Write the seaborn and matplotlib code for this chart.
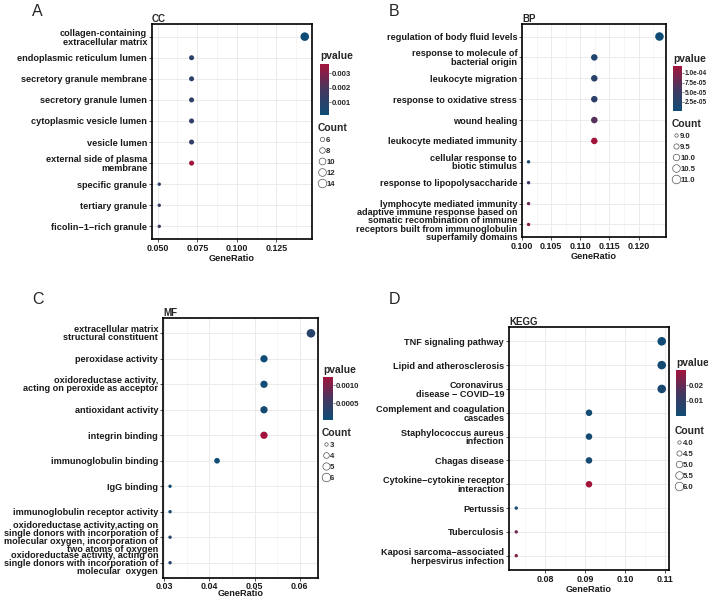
import matplotlib
matplotlib.use("Agg")
import matplotlib.pyplot as plt
import matplotlib.colors as mcolors
from matplotlib.lines import Line2D
from matplotlib.ticker import MultipleLocator, FormatStrFormatter
import numpy as np
import pandas as pd
import seaborn as sns

sns.set_theme(style="white")
plt.rcParams['font.family'] = ['Liberation Sans', 'DejaVu Sans']

# ===== data =====
cc_terms = ["collagen-containing\nextracellular matrix", "endoplasmic reticulum lumen",
            "secretory granule membrane", "secretory granule lumen", "cytoplasmic vesicle lumen",
            "vesicle lumen", "external side of plasma\nmembrane", "specific granule",
            "tertiary granule", "ficolin\u22121\u2212rich granule"]
cc_ratio = [0.1429, 0.0714, 0.0714, 0.0714, 0.0714, 0.0714, 0.0714, 0.0510, 0.0510, 0.0510]
cc_count = [14, 7, 7, 7, 7, 7, 7, 5, 5, 5]
cc_p = [0.00012, 0.0011, 0.0011, 0.0012, 0.0012, 0.0013, 0.00365, 0.0012, 0.0013, 0.0017]

bp_terms = ["regulation of body fluid levels", "response to molecule of\nbacterial origin",
            "leukocyte migration", "response to oxidative stress", "wound healing",
            "leukocyte mediated immunity", "cellular response to\nbiotic stimulus",
            "response to lipopolysaccharide", "lymphocyte mediated immunity",
            "adaptive immune response based on\nsomatic recombination of immune\n"
            "receptors built from immunoglobulin\nsuperfamily domains"]
bp_ratio = [0.1236, 0.1124, 0.1124, 0.1124, 0.1124, 0.1124, 0.1011, 0.1011, 0.1011, 0.1011]
bp_count = [11, 10, 10, 10, 10, 10, 9, 9, 9, 9]
bp_p = [0.000001, 0.000020, 0.000030, 0.000035, 0.000070, 0.000118,
        0.000010, 0.000050, 0.000080, 0.000100]

mf_terms = ["extracellular matrix\nstructural constituent", "peroxidase activity",
            "oxidoreductase activity,\nacting on peroxide as acceptor", "antioxidant activity",
            "integrin binding", "immunoglobulin binding", "IgG binding",
            "immunoglobulin receptor activity",
            "oxidoreductase activity,acting on\nsingle donors with incorporation of\n"
            "molecular oxygen, incorporation of\ntwo atoms of oxygen",
            "oxidoreductase activity, acting on\nsingle donors with incorporation of\n"
            "molecular  oxygen"]
mf_ratio = [0.0625, 0.0521, 0.0521, 0.0521, 0.0521, 0.0417, 0.0313, 0.0313, 0.0313, 0.0313]
mf_count = [6, 5, 5, 5, 5, 4, 3, 3, 3, 3]
mf_p = [0.00030, 0.00004, 0.00005, 0.00009, 0.00122, 0.00005, 0.00008, 0.00010, 0.00028, 0.00030]

kegg_terms = ["TNF signaling pathway", "Lipid and atherosclerosis",
              "Coronavirus\ndisease \u2212 COVID\u221219", "Complement and coagulation\ncascades",
              "Staphylococcus aureus\ninfection", "Chagas disease",
              "Cytokine\u2212cytokine receptor\ninteraction", "Pertussis", "Tuberculosis",
              "Kaposi sarcoma\u2212associated\nherpesvirus infection"]
kegg_ratio = [0.1091, 0.1091, 0.1091, 0.0909, 0.0909, 0.0909, 0.0909, 0.0727, 0.0727, 0.0727]
kegg_count = [6, 6, 6, 5, 5, 5, 5, 4, 4, 4]
kegg_p = [0.0003, 0.0020, 0.0030, 0.0010, 0.0015, 0.0020, 0.0297, 0.0020, 0.0220, 0.0240]

W, H = 708, 598
cmap = mcolors.LinearSegmentedColormap.from_list("pv", ["#0F4C75", "#45375F", "#A3143C"])

fig = plt.figure(figsize=(W / 100, H / 100), dpi=100)


def px(x0, y0, x1, y1):
    # pixel box -> figure fraction rect
    return [x0 / W, 1 - y1 / H, (x1 - x0) / W, (y1 - y0) / H]


def panel(terms, ratio, count, pval, title, box, xstep, xfmt, cbar_box, cbar_ticks, cbar_fmt,
          count_breaks, count_fmt, count_xy, label_gap, tick_pad=1.5, cbar_fs=5.6, lsp=1.0):
    ax = fig.add_axes(px(*box))
    df = pd.DataFrame({"Description": terms, "GeneRatio": ratio, "Count": count, "pvalue": pval})
    pnorm = (min(pval), max(pval))
    cnorm = (min(count), max(count))
    smin, smax = 6, 38
    sns.scatterplot(data=df, x="GeneRatio", y="Description", hue="pvalue", size="Count",
                    palette=cmap, hue_norm=pnorm, sizes=(smin, smax), size_norm=cnorm,
                    linewidth=0, legend=False, ax=ax, zorder=3)
    n = len(terms)
    ax.set_ylim(n - 1 + 0.6, -0.6)
    r = max(ratio) - min(ratio)
    ax.set_xlim(min(ratio) - 0.05 * r, max(ratio) + 0.05 * r)
    ax.xaxis.set_major_locator(MultipleLocator(xstep))
    ax.xaxis.set_minor_locator(MultipleLocator(xstep / 2))
    ax.xaxis.set_major_formatter(FormatStrFormatter(xfmt))
    ax.grid(True, which="major", color="#ebebeb", lw=0.7, zorder=0)
    ax.grid(True, which="minor", axis="x", color="#f2f2f2", lw=0.45, zorder=0)
    ax.set_axisbelow(True)
    for s in ax.spines.values():
        s.set_color("black")
        s.set_linewidth(1.2)
    ax.tick_params(axis="both", which="major", length=2, width=0.6, color="#333333",
                   labelsize=6.6, pad=1.5, labelcolor="#1a1a1a", left=True, bottom=True)
    ax.tick_params(axis="x", which="major", pad=tick_pad)
    ax.tick_params(axis="x", which="minor", length=0)
    for lab in ax.get_yticklabels():
        lab.set_fontweight("bold")
        lab.set_linespacing(lsp)
    for lab in ax.get_xticklabels():
        lab.set_fontweight("bold")
        lab.set_fontsize(6.4)
    ax.set_ylabel("")
    ax.set_xlabel("GeneRatio", fontsize=6.6, fontweight="bold", labelpad=label_gap, color="#1a1a1a")
    ax.set_title(title, loc="left", fontsize=7, fontweight="bold", pad=1.5)

    # colour bar
    cax = fig.add_axes(px(*cbar_box))
    sm = plt.cm.ScalarMappable(norm=mcolors.Normalize(*pnorm), cmap=cmap)
    cb = fig.colorbar(sm, cax=cax, ticks=cbar_ticks, format=cbar_fmt)
    cb.outline.set_visible(False)
    cax.tick_params(length=1.5, width=0.5, color="#444444", labelsize=cbar_fs, pad=0.5)
    for lab in cax.get_yticklabels():
        lab.set_fontweight("bold")
    cax.text(0, 1.05, "pvalue", transform=cax.transAxes, ha="left", va="bottom",
             fontsize=7.4, fontweight="bold")

    # size legend
    handles = []
    for c in count_breaks:
        s = smin + (c - cnorm[0]) / (cnorm[1] - cnorm[0]) * (smax - smin)
        handles.append(Line2D([0], [0], ls="", marker="o", markersize=np.sqrt(s),
                              markerfacecolor="white", markeredgecolor="#555555",
                              markeredgewidth=0.5))
    leg = ax.legend(handles, [count_fmt % c for c in count_breaks], title="Count",
                    loc="upper left", bbox_to_anchor=(count_xy[0] / W, 1 - count_xy[1] / H),
                    bbox_transform=fig.transFigure, frameon=False, fontsize=5.6,
                    handlelength=0.9, handletextpad=0.15, labelspacing=0.45,
                    borderpad=0, borderaxespad=0, alignment="left")
    leg.get_title().set_fontsize(7.4)
    leg.get_title().set_fontweight("bold")
    for t in leg.get_texts():
        t.set_fontweight("bold")
    return ax


panel(cc_terms, cc_ratio, cc_count, cc_p, "CC", (152, 24, 312, 239), 0.025, "%.3f",
      (320, 64, 329, 115), [0.001, 0.002, 0.003], "%.3f",
      [6, 8, 10, 12, 14], "%d", (318, 123), 1, lsp=1.02)
panel(bp_terms, bp_ratio, bp_count, bp_p, "BP", (522, 24, 666, 237), 0.005, "%.3f",
      (673, 66, 682, 111), [2.5e-5, 5e-5, 7.5e-5, 1e-4], "%.1e",
      [9.0, 9.5, 10.0, 10.5, 11.0], "%.1f", (672, 119), 1, cbar_fs=4.7, lsp=0.93)
panel(mf_terms, mf_ratio, mf_count, mf_p, "MF", (163, 318, 318, 578), 0.01, "%.2f",
      (323, 377, 333, 420), [0.0005, 0.0010], "%.4f",
      [3, 4, 5, 6], "%d", (322, 428), -1, tick_pad=0.8, lsp=0.87)
panel(kegg_terms, kegg_ratio, kegg_count, kegg_p, "KEGG", (509, 327, 669, 570), 0.01, "%.2f",
      (676, 370, 686, 416), [0.01, 0.02], "%.2f",
      [4.0, 4.5, 5.0, 5.5, 6.0], "%.1f", (675, 426), 1, lsp=0.98)

for letter, x, y in [("A", 37, 11), ("B", 394, 11), ("C", 38, 300), ("D", 394, 300)]:
    fig.text(x / W, 1 - y / H, letter, ha="center", va="center", fontsize=11.5)

fig.savefig("out.png", dpi=100)
